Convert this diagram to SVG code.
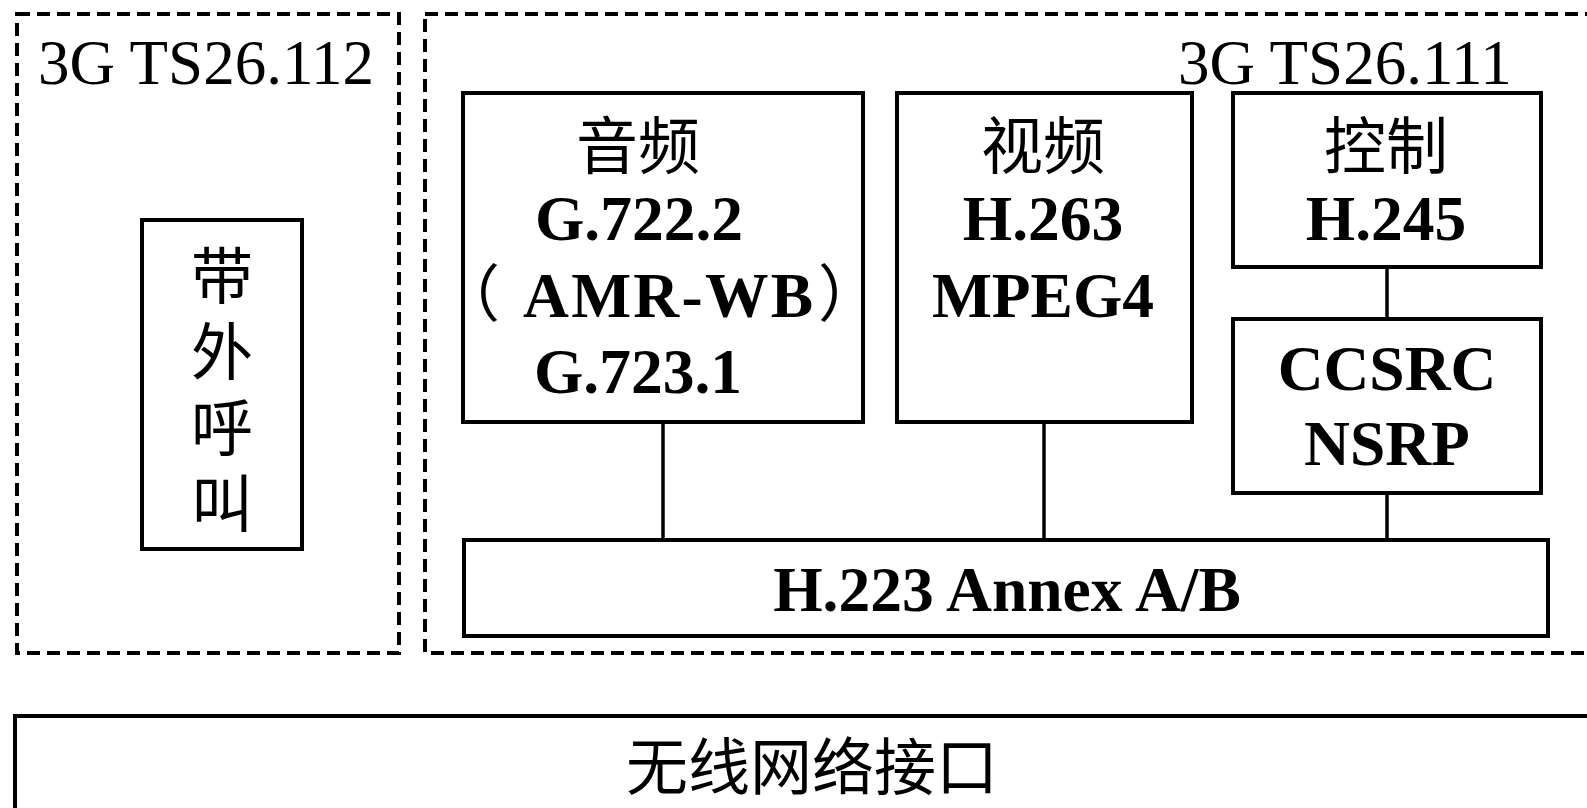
<svg xmlns="http://www.w3.org/2000/svg" width="1587" height="808" viewBox="0 0 1587 808">
<style>
.bg{fill:#fff}
.box{fill:#fff;stroke:#000;stroke-width:4}
.dash{fill:none;stroke:#000;stroke-width:4;stroke-dasharray:13 7}
.conn{stroke:#000;stroke-width:3.5;fill:none}
.t{font-family:"Liberation Serif","Noto Sans CJK SC",serif;font-size:62px;fill:#000;text-anchor:middle}
.b{font-weight:bold;font-size:63.5px}
.cjk{font-family:"Noto Sans CJK SC","Liberation Serif",serif;font-weight:normal}
.lbl{font-family:"Liberation Serif",serif;font-size:63px;fill:#000}
.vert{writing-mode:vertical-rl;text-anchor:start;letter-spacing:14px}
</style>
<rect class="bg" x="0" y="0" width="1587" height="808"/>
<g id="group-ts26112">
<rect class="dash" x="17" y="14" width="382" height="639"/>
<text class="lbl" x="38" y="84">3G TS26.112</text>
</g>
<g id="group-ts26111">
<rect class="dash" x="425" y="14" width="1200" height="639"/>
<text class="lbl" x="1178" y="84">3G TS26.111</text>
</g>
<g id="connectors">
<line class="conn" x1="663" y1="422" x2="663" y2="540"/>
<line class="conn" x1="1044" y1="422" x2="1044" y2="540"/>
<line class="conn" x1="1387" y1="267" x2="1387" y2="319"/>
<line class="conn" x1="1387" y1="493" x2="1387" y2="540"/>
</g>
<g id="node-outband">
<rect class="box" x="142" y="220" width="160" height="329"/>
<text class="t cjk vert" x="222" y="244">带外呼叫</text>
</g>
<g id="node-audio">
<rect class="box" x="463" y="93" width="400" height="329"/>
<text class="t cjk" x="638" y="169">音频</text>
<text class="t b" x="639" y="240">G.722.2</text>
<text class="t" y="317" style="text-anchor:start"><tspan class="cjk" x="438">（</tspan><tspan class="b" x="523" textLength="290" lengthAdjust="spacing">AMR-WB</tspan><tspan class="cjk" x="818">）</tspan></text>
<text class="t b" x="638" y="393">G.723.1</text>
</g>
<g id="node-video">
<rect class="box" x="897" y="93" width="295" height="329"/>
<text class="t cjk" x="1043" y="169">视频</text>
<text class="t b" x="1043" y="240">H.263</text>
<text class="t b" x="1043" y="317">MPEG4</text>
</g>
<g id="node-control">
<rect class="box" x="1233" y="93" width="308" height="174"/>
<text class="t cjk" x="1386" y="169">控制</text>
<text class="t b" x="1386" y="240">H.245</text>
</g>
<g id="node-ccsrc">
<rect class="box" x="1233" y="319" width="308" height="174"/>
<text class="t b" x="1387" y="390">CCSRC</text>
<text class="t b" x="1387" y="465">NSRP</text>
</g>
<g id="node-h223">
<rect class="box" x="464" y="540" width="1084" height="96"/>
<text class="t b" x="1007" y="611">H.223 Annex A/B</text>
</g>
<g id="node-wireless">
<rect class="box" x="15" y="716" width="1600" height="120"/>
<text class="t cjk" x="812" y="790">无线网络接口</text>
</g>
</svg>
